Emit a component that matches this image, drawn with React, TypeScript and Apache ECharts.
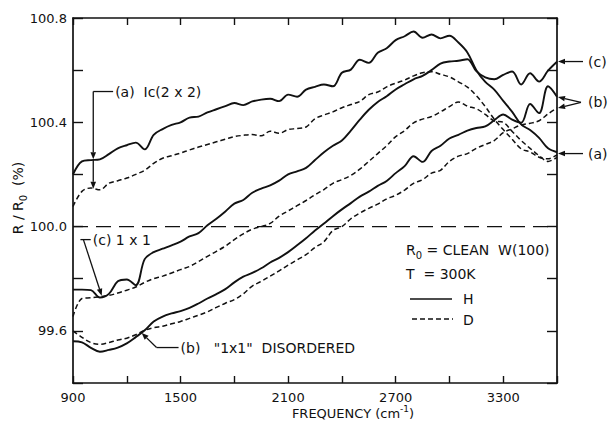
import React, { useEffect, useRef } from 'react';
import * as echarts from 'echarts';

// Frequency grid (cm^-1)
const freq = [
  900, 950, 1000, 1050, 1100, 1150, 1200, 1250, 1300, 1350, 1400, 1450, 1500, 1550, 1600, 1650, 1700, 1750, 1800,
  1850, 1900, 1950, 2000, 2050, 2100, 2150, 2200, 2250, 2300, 2350, 2400, 2450, 2500, 2550, 2600, 2650, 2700, 2750,
  2800, 2850, 2900, 2950, 3000, 3050, 3100, 3150, 3200, 3250, 3300, 3350, 3400, 3450, 3500, 3550, 3600,
];

// (a) Ic(2x2), H (solid)
const aH = [
  100.2, 100.25, 100.255, 100.258, 100.278, 100.3, 100.312, 100.322, 100.296, 100.352, 100.374, 100.39, 100.4,
  100.418, 100.422, 100.438, 100.45, 100.462, 100.474, 100.466, 100.48, 100.487, 100.49, 100.481, 100.506, 100.498,
  100.525, 100.536, 100.545, 100.538, 100.59, 100.602, 100.64, 100.628, 100.667, 100.684, 100.715, 100.73, 100.748,
  100.724, 100.737, 100.722, 100.732, 100.706, 100.668, 100.6, 100.555, 100.525, 100.482, 100.44, 100.392, 100.37,
  100.34, 100.3, 100.285,
];
// (a) Ic(2x2), D (dashed)
const aD = [
  100.077, 100.135, 100.148, 100.141, 100.166, 100.176, 100.186, 100.2, 100.216, 100.242, 100.262, 100.272, 100.282,
  100.294, 100.305, 100.315, 100.325, 100.335, 100.345, 100.35, 100.353, 100.348, 100.366, 100.358, 100.372, 100.376,
  100.382, 100.414, 100.428, 100.44, 100.456, 100.468, 100.48, 100.506, 100.516, 100.536, 100.55, 100.562, 100.578,
  100.59, 100.594, 100.584, 100.574, 100.555, 100.535, 100.502, 100.46, 100.412, 100.372, 100.335, 100.298, 100.286,
  100.266, 100.26, 100.275,
];
// (c) 1x1, H (solid)
const cH = [
  99.758, 99.758, 99.756, 99.728, 99.742, 99.79, 99.797, 99.775, 99.875, 99.902, 99.915, 99.928, 99.942, 99.962,
  99.975, 100.005, 100.03, 100.058, 100.088, 100.102, 100.13, 100.146, 100.158, 100.176, 100.2, 100.212, 100.225,
  100.255, 100.285, 100.31, 100.33, 100.368, 100.41, 100.448, 100.478, 100.5, 100.526, 100.546, 100.565, 100.578,
  100.6, 100.625, 100.633, 100.636, 100.642, 100.596, 100.572, 100.565, 100.582, 100.595, 100.545, 100.588, 100.556,
  100.598, 100.632,
];
// (c) 1x1, D (dashed)
const cD = [
  99.655, 99.724, 99.727, 99.731, 99.736, 99.745, 99.756, 99.768, 99.786, 99.8, 99.81, 99.822, 99.835, 99.847,
  99.866, 99.886, 99.905, 99.925, 99.95, 99.972, 99.99, 100.0, 100.012, 100.04, 100.06, 100.08, 100.1, 100.122,
  100.142, 100.166, 100.18, 100.196, 100.22, 100.25, 100.28, 100.31, 100.345, 100.368, 100.398, 100.412, 100.422,
  100.44, 100.46, 100.478, 100.462, 100.452, 100.43, 100.405, 100.4, 100.365, 100.33, 100.3, 100.272, 100.25, 100.265,
];
// (b) "1x1" disordered, H (solid)
const bH = [
  99.56, 99.556, 99.535, 99.52, 99.527, 99.536, 99.552, 99.576, 99.602, 99.636, 99.655, 99.667, 99.676, 99.688,
  99.705, 99.724, 99.741, 99.76, 99.786, 99.808, 99.822, 99.84, 99.862, 99.88, 99.902, 99.928, 99.955, 99.985,
  100.012, 100.04, 100.066, 100.09, 100.115, 100.134, 100.156, 100.175, 100.205, 100.232, 100.27, 100.248, 100.29,
  100.31, 100.338, 100.352, 100.368, 100.378, 100.384, 100.408, 100.43, 100.41, 100.398, 100.47, 100.435, 100.538,
  100.498,
];
// (b) "1x1" disordered, D (dashed)
const bD = [
  99.6, 99.575, 99.555, 99.548, 99.555, 99.565, 99.572, 99.585, 99.602, 99.612, 99.618, 99.627, 99.636, 99.648,
  99.66, 99.673, 99.69, 99.706, 99.72, 99.742, 99.772, 99.79, 99.81, 99.83, 99.852, 99.872, 99.892, 99.92, 99.942,
  99.985, 100.0, 100.03, 100.052, 100.07, 100.086, 100.106, 100.12, 100.14, 100.166, 100.18, 100.205, 100.216, 100.25,
  100.27, 100.28, 100.3, 100.315, 100.33, 100.36, 100.375, 100.39, 100.396, 100.406, 100.432, 100.455,
];

const baseline = 100.0;

// Annotation anchors in data space
const noteA = { label: '(a)  Ic(2 x 2)', text: [1135, 100.518], elbow: [1013, 100.518], tips: [[1013, 100.258], [1013, 100.145]] };
const noteC = { label: '(c) 1 x 1', text: [1010, 99.95], elbow: [958, 99.95], tip: [1060, 99.735] };
const noteB = { label: '(b)   "1x1"  DISORDERED', text: [1500, 99.536], elbow: [1366, 99.536], tip: [1283, 99.592] };
const rightC = 100.633;
const rightB = [100.497, 100.455];
const rightA = 100.28;

export default function App() {
  const ref = useRef<HTMLDivElement>(null);
  useEffect(() => {
    const el = ref.current!;
    const chart = echarts.init(el, null, { renderer: 'svg' });
    const ink = '#111111';
    const font = 'DejaVu Sans, sans-serif';
    const pairs = (ys: number[]) => freq.map((f, i) => [f, ys[i]]);
    const solid = (name: string, ys: number[]) => ({
      type: 'line', name, data: pairs(ys), symbol: 'none', smooth: 0.35, silent: true,
      xAxisIndex: 0, yAxisIndex: 0, lineStyle: { color: ink, width: 1.9 },
    });
    const dashed = (name: string, ys: number[]) => ({
      type: 'line', name, data: pairs(ys), symbol: 'none', smooth: 0.35, silent: true,
      xAxisIndex: 0, yAxisIndex: 0, lineStyle: { color: ink, width: 1.5, type: [5, 3] },
    });
    const xLab = (v: number) => ((Math.round(v) - 900) % 600 === 0 && v < 3500 ? String(Math.round(v)) : '');
    const yLab = (v: number) => {
      const k = Math.round((v - 99.6) * 10);
      return k >= 0 && k % 4 === 0 ? v.toFixed(1) : '';
    };
    const axisLine = { show: true, onZero: false, lineStyle: { color: ink, width: 1.7 } };
    chart.setOption({
      animation: false,
      backgroundColor: '#ffffff',
      grid: { left: 73, right: 53, top: 18, bottom: 38 },
      xAxis: [
        {
          type: 'value', min: 900, max: 3600, interval: 300, position: 'bottom',
          axisLine, splitLine: { show: false },
          axisTick: { show: true, inside: true, length: 7, lineStyle: { color: ink, width: 1.4 } },
          axisLabel: { formatter: xLab, color: ink, fontSize: 13, fontFamily: font, margin: 8 },
        },
        {
          type: 'value', min: 900, max: 3600, interval: 300, position: 'top',
          axisLine, splitLine: { show: false },
          axisTick: { show: true, inside: true, length: 7, lineStyle: { color: ink, width: 1.4 } },
          axisLabel: { show: false },
        },
      ],
      yAxis: [
        {
          type: 'value', min: 99.4, max: 100.8, interval: 0.2, position: 'left',
          axisLine, splitLine: { show: false },
          axisTick: { show: true, inside: true, length: 10, lineStyle: { color: ink, width: 1.4 } },
          axisLabel: { formatter: yLab, color: ink, fontSize: 13, fontFamily: font, margin: 6 },
        },
        {
          type: 'value', min: 99.4, max: 100.8, interval: 0.2, position: 'right',
          axisLine, splitLine: { show: false },
          axisTick: { show: true, inside: true, length: 10, lineStyle: { color: ink, width: 1.4 } },
          axisLabel: { show: false },
        },
      ],
      series: [
        {
          type: 'line', name: 'R0', data: [[900, baseline], [3600, baseline]], symbol: 'none', silent: true,
          xAxisIndex: 0, yAxisIndex: 0, lineStyle: { color: ink, width: 1.3, type: [15, 8] },
        },
        solid('(a) H', aH),
        dashed('(a) D', aD),
        solid('(c) H', cH),
        dashed('(c) D', cD),
        solid('(b) H', bH),
        dashed('(b) D', bD),
      ],
    });

    const P = (p: number[]) => chart.convertToPixel({ xAxisIndex: 0, yAxisIndex: 0 }, p) as number[];
    const lineEl = (x1: number, y1: number, x2: number, y2: number) => ({
      type: 'line', silent: true, shape: { x1, y1, x2, y2 }, style: { stroke: ink, lineWidth: 1.3 },
    });
    const arrow = (x1: number, y1: number, x2: number, y2: number, len = 7, w = 2.8) => {
      const dx = x2 - x1, dy = y2 - y1, d = Math.hypot(dx, dy) || 1;
      const ux = dx / d, uy = dy / d;
      const bx = x2 - ux * len, by = y2 - uy * len;
      const nx = -uy, ny = ux;
      return [
        lineEl(x1, y1, bx, by),
        {
          type: 'polygon', silent: true,
          shape: { points: [[x2, y2], [bx + nx * w, by + ny * w], [bx - nx * w, by - ny * w]] },
          style: { fill: ink },
        },
      ];
    };
    const txt = (x: number, y: number, text: string, align = 'left', size = 14) => ({
      type: 'text', silent: true, x, y,
      style: { text, fill: ink, font: `${size}px ${font}`, align, verticalAlign: 'middle' },
    });

    const g: any[] = [];
    // (a) Ic(2x2)
    {
      const t = P(noteA.text), e = P(noteA.elbow), t1 = P(noteA.tips[0]), t2 = P(noteA.tips[1]);
      g.push(txt(t[0], t[1], noteA.label));
      g.push(lineEl(t[0] - 2, t[1], e[0], e[1]));
      g.push(...arrow(e[0], e[1], t1[0], t1[1]));
      g.push(...arrow(t1[0], t1[1], t2[0], t2[1]));
    }
    // (c) 1x1
    {
      const t = P(noteC.text), e = P(noteC.elbow), tp = P(noteC.tip);
      g.push(txt(t[0], t[1], noteC.label));
      g.push(lineEl(e[0] - 3, e[1], t[0] - 2, t[1]));
      g.push(...arrow(e[0], e[1], tp[0], tp[1]));
    }
    // (b) "1x1" disordered
    {
      const t = P(noteB.text), e = P(noteB.elbow), tp = P(noteB.tip);
      g.push(txt(t[0], t[1], noteB.label));
      g.push(lineEl(t[0] - 2, t[1], e[0], e[1]));
      g.push(...arrow(e[0], e[1], tp[0], tp[1]));
    }
    // Right-hand labels
    const right = P([3600, 100])[0];
    {
      const yc = P([3600, rightC])[1];
      g.push(txt(right + 31, yc, '(c)'));
      g.push(...arrow(right + 26, yc, right + 1, yc));
      const yb1 = P([3600, rightB[0]])[1], yb2 = P([3600, rightB[1]])[1];
      const ybt = (yb1 + yb2) / 2;
      g.push(txt(right + 31, ybt, '(b)'));
      g.push(...arrow(right + 24, ybt, right + 1, yb1));
      g.push(...arrow(right + 24, ybt, right + 1, yb2));
      const ya = P([3600, rightA])[1];
      g.push(txt(right + 31, ya, '(a)'));
      g.push(...arrow(right + 26, ya, right + 1, ya));
    }
    // Key block
    g.push({
      type: 'text', silent: true, x: 406, y: 250,
      style: {
        text: '{r|R}{s|0}{r| = CLEAN  W(100)}', fill: ink, font: `14px ${font}`, verticalAlign: 'middle',
        rich: {
          r: { fontSize: 14, fontFamily: font, lineHeight: 20, fill: ink },
          s: { fontSize: 10, fontFamily: font, lineHeight: 10, verticalAlign: 'bottom', fill: ink },
        },
      },
    });
    g.push(txt(406, 274, 'T  = 300K'));
    g.push(lineEl(410, 299, 452, 299));
    g.push({ ...lineEl(412, 319, 453, 319), style: { stroke: ink, lineWidth: 1.3, lineDash: [5, 3] } });
    g.push(txt(463, 299, 'H'));
    g.push(txt(463, 320, 'D'));
    // Axis names
    g.push({
      type: 'text', silent: true, x: 353, y: 413,
      style: {
        text: '{r|FREQUENCY (cm}{p|-1}{r|)}', fill: ink, align: 'center', verticalAlign: 'middle',
        rich: {
          r: { fontSize: 13, fontFamily: font, lineHeight: 18, fill: ink },
          p: { fontSize: 9, fontFamily: font, lineHeight: 9, verticalAlign: 'top', fill: ink },
        },
      },
    });
    g.push({
      type: 'text', silent: true, x: 18, y: 198, rotation: Math.PI / 2,
      style: {
        text: '{r|R / R}{s|0}{r|  (%)}', fill: ink, align: 'center', verticalAlign: 'middle',
        rich: {
          r: { fontSize: 14, fontFamily: font, lineHeight: 20, fill: ink },
          s: { fontSize: 10, fontFamily: font, lineHeight: 10, verticalAlign: 'bottom', fill: ink },
        },
      },
    });
    chart.setOption({ graphic: g });
    return () => chart.dispose();
  }, []);
  return (
    <div
      ref={ref}
      style={{ position: 'fixed', left: 0, top: 0, width: 610, height: 421, background: '#ffffff' }}
    />
  );
}
